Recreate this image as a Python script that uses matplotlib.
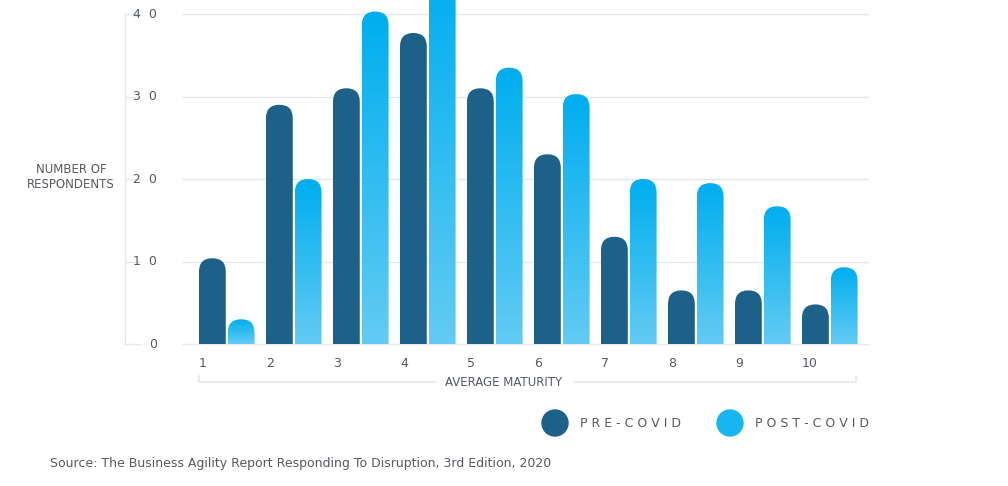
import matplotlib.pyplot as plt
import numpy as np
from matplotlib.patches import FancyBboxPatch, Ellipse
from matplotlib.colors import LinearSegmentedColormap

maturity = [1, 2, 3, 4, 5, 6, 7, 8, 9, 10]
pre_covid = [10.4, 29, 31, 37.7, 31, 23, 13, 6.5, 6.5, 4.8]
post_covid = [3, 20, 40.3, 45, 33.5, 30.3, 20, 19.5, 16.7, 9.3]
y_ticks = [0, 10, 20, 30, 40]

PRE = '#1d6188'
grad = LinearSegmentedColormap.from_list('g', ['#62cbf3', '#00aeef'])
TXT = '#555a60'
GRID = '#e3e8ec'

fig = plt.figure(figsize=(10.08, 4.86), dpi=100)
ax = fig.add_axes([125 / 1008, 142 / 486, 743 / 1008, 344 / 486])
ax.set_xlim(-0.524, 10.565)
ax.set_ylim(0, 41.7)
ax.axis('off')

w = 0.4
aspect = (13.5 / 8.25) / 0.2


def rounded_bar(x, h, color=None, gradient=False):
    p = FancyBboxPatch((x, -5), w, h + 5, boxstyle='round,pad=0,rounding_size=0.2',
                       mutation_aspect=aspect, linewidth=0,
                       facecolor=color if color else 'none', zorder=3)
    ax.add_patch(p)
    if gradient:
        img = ax.imshow(np.linspace(0, 1, 100).reshape(-1, 1), cmap=grad, aspect='auto',
                        extent=(x, x + w, 0, max(h, 1)), origin='lower', zorder=3)
        img.set_clip_path(p)


for i, (a, b) in enumerate(zip(pre_covid, post_covid)):
    m = maturity[i]
    rounded_bar(m - 0.42, a, PRE)
    rounded_bar(m + 0.01, b, gradient=True)
    ax.text(m - 0.42, -1.6, str(m), ha='left', va='top', fontsize=9, color=TXT)

ax.set_xlim(-0.524, 10.565)
ax.set_ylim(0, 41.7)

# grid and y labels
for t in y_ticks:
    ax.plot([0.33, 10.565], [t, t], color=GRID, lw=1, zorder=1, clip_on=False)
    ax.plot([-0.524, -0.3], [t, t], color=GRID, lw=1, zorder=1, clip_on=False)
    ax.text(-0.05, t, '  '.join(str(t)) if t else '0', ha='right', va='center',
            fontsize=9, color=TXT)
ax.plot([-0.524, -0.524], [0, 40], color=GRID, lw=1, clip_on=False)

fig.text(115 / 1008, 1 - 177 / 486, 'NUMBER OF\nRESPONDENTS', ha='right', va='center',
         fontsize=8.5, color=TXT, multialignment='center')

# x bracket
by = 1 - 382 / 486
fig.add_artist(plt.Line2D([199 / 1008, 199 / 1008, 435 / 1008], [by + 0.012, by, by],
                          color=GRID, lw=1.2))
fig.add_artist(plt.Line2D([575 / 1008, 856 / 1008, 856 / 1008], [by, by, by + 0.012],
                          color=GRID, lw=1.2))
fig.text(504 / 1008, by, 'AVERAGE MATURITY', ha='center', va='center', fontsize=8.5, color=TXT)

# legend
ly = 1 - 423 / 486
for cx, col, lab in [(555, PRE, 'P R E - C O V I D'), (730, '#18b6f0', 'P O S T - C O V I D')]:
    fig.add_artist(Ellipse((cx / 1008, ly), 26 / 1008, 26 / 486, color=col,
                           transform=fig.transFigure))
    fig.text((cx + 25) / 1008, ly, lab, ha='left', va='center', fontsize=9, color=TXT)

fig.text(50 / 1008, 1 - 463 / 486,
         'Source: The Business Agility Report Responding To Disruption, 3rd Edition, 2020',
         ha='left', va='center', fontsize=9, color=TXT)

fig.savefig('out.png', dpi=100)
